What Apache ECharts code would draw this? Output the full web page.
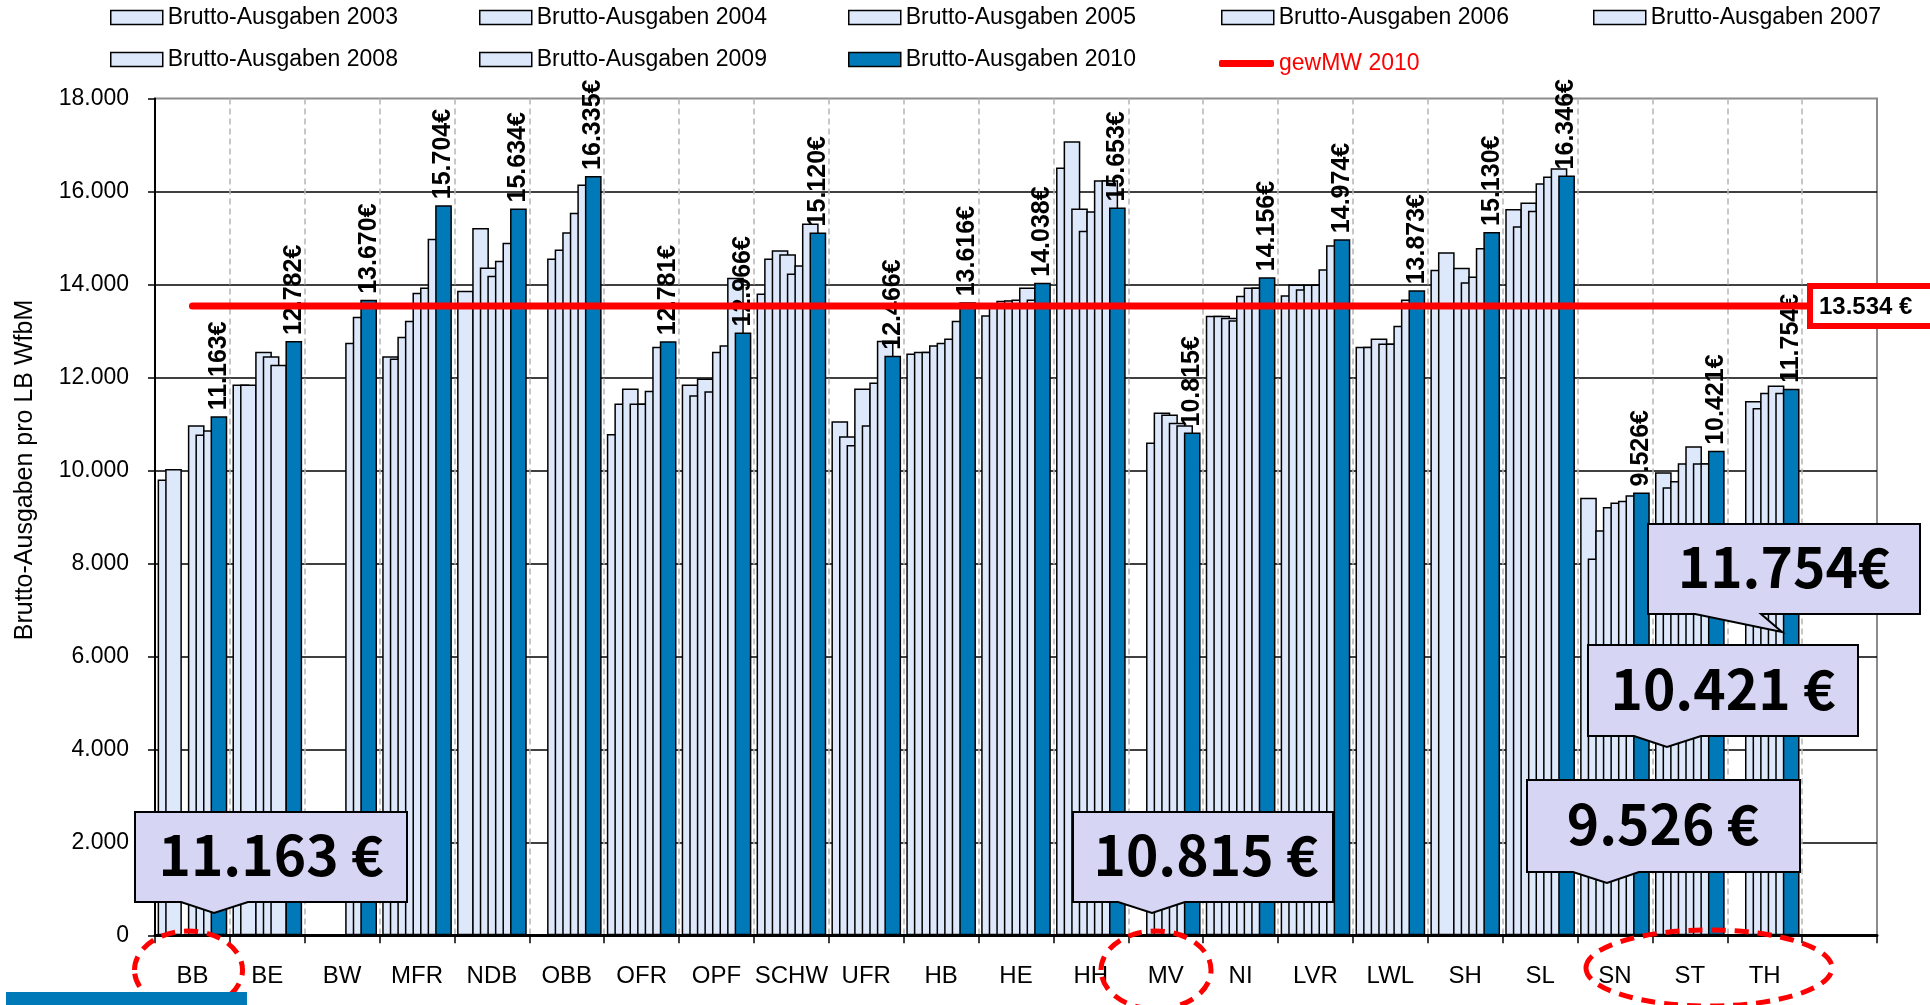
<!DOCTYPE html>
<html><head><meta charset="utf-8">
<script src="https://cdn.jsdelivr.net/npm/echarts@6/dist/echarts.min.js"></script>
<style>html,body{margin:0;padding:0;background:#fff}#c{width:1930px;height:1005px}</style>
</head><body><div id="c"></div>
<script>
// ---------------- data ----------------
const categories = ['BB','BE','BW','MFR','NDB','OBB','OFR','OPF','SCHW','UFR','HB','HE','HH','MV','NI','LVR','LWL','SH','SL','SN','ST','TH',''];
const years = ['2003','2004','2005','2006','2007','2008','2009','2010'];
const y2003 = [9806, 11849, null, 12458, 13863, null, 10781, 11849, 13806, 11060, 12516, 13340, 16516, null, 13325, 13770, 12658, 14314, 15621, 9410, 9962, null];
const y2004 = [10028, 11849, null, 12408, null, null, 11441, 11619, 14559, 10737, 12550, 13555, 17081, null, 13325, 14000, 12658, 14693, 15250, 8107, 9640, null];
const y2005 = [null, null, null, 12873, 15217, 14559, 11763, 11978, 14737, 10544, 12550, 13650, 15634, 10602, 13282, 13899, 12838, null, 15764, 8713, 9770, 11494];
const y2006 = [null, 12550, null, 13217, 14365, 14750, 11441, 11705, 14651, 11763, 12694, 13662, 15153, 11247, 13232, 14000, 12731, 14357, 15586, 9211, 10153, 11341];
const y2007 = [10974, 12458, null, 13819, 14185, 15124, 11441, 12550, 14236, 10974, 12744, 13677, 15576, 11204, 13755, 14000, 12731, 14050, 16179, 9310, 10521, 11670];
const y2008 = [10774, 12271, 12744, 13935, 14508, 15540, 11712, 12694, 14415, 11892, 12838, 13935, 16243, 11024, 13935, 14329, 13110, 14171, 16321, 9349, 10153, 11824];
const y2009 = [10866, null, 13303, 14981, 14895, 16150, 12658, 14142, 15311, 12787, 13217, 13677, 16243, 10974, 13935, 14845, 13677, 14786, 16500, 9464, 10153, 11670];
const y2010 = [11163, 12782, 13670, 15704, 15634, 16335, 12781, 12966, 15120, 12466, 13616, 14038, 15653, 10815, 14156, 14974, 13873, 15130, 16346, 9526, 10421, 11754];
const meanName = 'gewMW 2010';
const meanValue = 13534;
const yMin = 0, yMax = 18000, yStep = 2000;
const yTitle = 'Brutto-Ausgaben pro LB WfbM';
const calloutCats = ['BB','MV','SN','ST','TH'];
const calloutSep = [' ', ' ', ' ', ' ', ''];

// ---------------- helpers ----------------
function fmt(v){ return String(Math.round(v)).replace(/\B(?=(\d{3})+(?!\d))/g,'.'); }
const SANS = "'Liberation Sans',Arial,sans-serif";
const CJK = "'Noto Sans CJK JP','Liberation Sans',sans-serif";
const LIGHT = '#DDE8FB', DARK = '#0079B9', RED = '#FF0000';

const yearData = [y2003,y2004,y2005,y2006,y2007,y2008,y2009,y2010];
const chart = echarts.init(document.getElementById('c'), null, {renderer:'canvas'});

const series = years.map((yr,i)=>({
  name: 'Brutto-Ausgaben ' + yr,
  type: 'bar',
  data: yearData[i],
  barWidth: 16.7,
  barGap: '-54.7%',
  itemStyle: {color: i===7 ? DARK : LIGHT, borderColor:'#000', borderWidth:1.5},
  label: i===7 ? {
    show:true, position:'top', rotate:90, distance:6, align:'left', verticalAlign:'middle',
    formatter: p => fmt(p.value) + '€',
    fontFamily: SANS, fontWeight:'bold', fontSize:25, color:'#000'
  } : {show:false},
  emphasis:{disabled:true},
  animation:false
}));
series.push({
  name: meanName, type:'line', data: categories.map(()=>meanValue),
  symbol:'none', itemStyle:{color:RED}, lineStyle:{color:RED, width:7, cap:'round'}, z:3,
  emphasis:{disabled:true}, animation:false
});

// legends: one per item, on a fixed grid like the original
const legendPos = [[110,6],[479,6],[848,6],[1221,6],[1593,6],[110,48],[479,48],[848,48],[1219,48]];
const legendNames = years.map(y=>'Brutto-Ausgaben '+y).concat([meanName]);
const legends = legendNames.map((n,i)=>{
  if (i === 8) {
    return {
      data:[{name:n, icon:'roundRect'}],
      left:legendPos[i][0], top:legendPos[i][1]+4, padding:0,
      itemWidth:55, itemHeight:7, itemGap:0, z:60, selectedMode:false,
      itemStyle:{color:RED, borderWidth:0},
      textStyle:{fontFamily:SANS, fontSize:23, color:RED}
    };
  }
  return {
    data:[{name:n, icon:'rect'}],
    left:legendPos[i][0], top:legendPos[i][1], padding:0,
    itemWidth:52, itemHeight:14, itemGap:0, z:60, selectedMode:false,
    itemStyle:{color: i===7 ? DARK : LIGHT, borderColor:'#000', borderWidth:1.5},
    textStyle:{fontFamily:SANS, fontSize:23, color:'#000'}
  };
});

// callouts (layout constants) - text from y2010
const calloutBoxes = [
  {x0:135,y0:812,x1:407,y1:902,pl:181,pr:248,tx:214,ty:913,cx:271,cy:855},
  {x0:1073,y0:812,x1:1333,y1:902,pl:1118,pr:1185,tx:1152,ty:913,cx:1206,cy:855},
  {x0:1527,y0:780,x1:1800,y1:872,pl:1573,pr:1639,tx:1607,ty:883,cx:1663,cy:824},
  {x0:1588,y0:645,x1:1858,y1:736,pl:1634,pr:1701,tx:1667,ty:747,cx:1723,cy:689},
  {x0:1648,y0:524,x1:1920,y1:614,pl:1695,pr:1761,tx:1782,ty:632,cx:1784,cy:567}
];
const graphics = [];
graphics.push({type:'rect', shape:{x:0,y:0,width:1930,height:76}, style:{fill:'#fff'}, z:50, silent:true});
graphics.push({type:'text', x:25, y:470, rotation:Math.PI/2,
  style:{text:yTitle, fontFamily:SANS, fontSize:25, fill:'#000', align:'center', verticalAlign:'middle'}, z:50});
calloutBoxes.forEach((b,i)=>{
  const v = y2010[categories.indexOf(calloutCats[i])];
  graphics.push({type:'polygon', shape:{points:[[b.x0,b.y0],[b.x1,b.y0],[b.x1,b.y1],[b.pr,b.y1],[b.tx,b.ty],[b.pl,b.y1],[b.x0,b.y1]]},
    style:{fill:'#D6D6F4', stroke:'#000', lineWidth:2}, z:40});
  graphics.push({type:'text', x:b.cx, y:b.cy,
    style:{text: fmt(v) + calloutSep[i] + '€', fontFamily:CJK, fontWeight:'bold', fontSize:55, fill:'#000', align:'center', verticalAlign:'middle'}, z:41});
});
[[188.5,970,54,39],[1156,970,55,39],[1709,968,123,38]].forEach(e=>{
  graphics.push({type:'ellipse', shape:{cx:e[0],cy:e[1],rx:e[2],ry:e[3]},
    style:{fill:'none', stroke:RED, lineWidth:5, lineDash:[14,9]}, z:42});
});
graphics.push({type:'rect', shape:{x:6,y:992,width:241,height:13}, style:{fill:DARK}, z:42});

chart.setOption({
  animation:false,
  backgroundColor:'#fff',
  legend: legends,
  grid:{left:155, top:98.5, width:1722, height:836.8, show:true, borderColor:'#8c8c8c', borderWidth:2, backgroundColor:'transparent'},
  xAxis:{
    type:'category', data:categories, boundaryGap:true,
    axisLine:{lineStyle:{color:'#000', width:3}},
    axisTick:{show:true, length:8, lineStyle:{color:'#000', width:1.5}},
    axisLabel:{interval:0, margin:29, fontFamily:SANS, fontSize:24, color:'#000'},
    splitLine:{show:true, showMinLine:false, showMaxLine:false, lineStyle:{color:'#b5b5b5', width:1.5, type:[6,4]}}
  },
  yAxis:{
    type:'value', min:yMin, max:yMax, interval:yStep,
    axisLine:{show:true, lineStyle:{color:'#000', width:2}},
    axisTick:{show:true, length:7, lineStyle:{color:'#000', width:1.5}},
    axisLabel:{margin:26, fontFamily:SANS, fontSize:23, color:'#000', formatter:v=>fmt(v)},
    splitLine:{show:true, showMaxLine:false, lineStyle:{color:'#000', width:1.5}}
  },
  series: series,
  graphic: graphics
});

// mean value box placed through the y scale
const py = chart.convertToPixel({yAxisIndex:0}, meanValue);
graphics.push({type:'rect', shape:{x:1810, y:py-20, width:150, height:40}, style:{fill:'#fff', stroke:RED, lineWidth:6}, z:45});
graphics.push({type:'text', x:1819, y:py+1, style:{text: fmt(meanValue)+' €', fontFamily:SANS, fontWeight:'bold', fontSize:24, fill:'#000', align:'left', verticalAlign:'middle'}, z:46});
chart.setOption({graphic: graphics}, {replaceMerge:['graphic']});
</script></body></html>
